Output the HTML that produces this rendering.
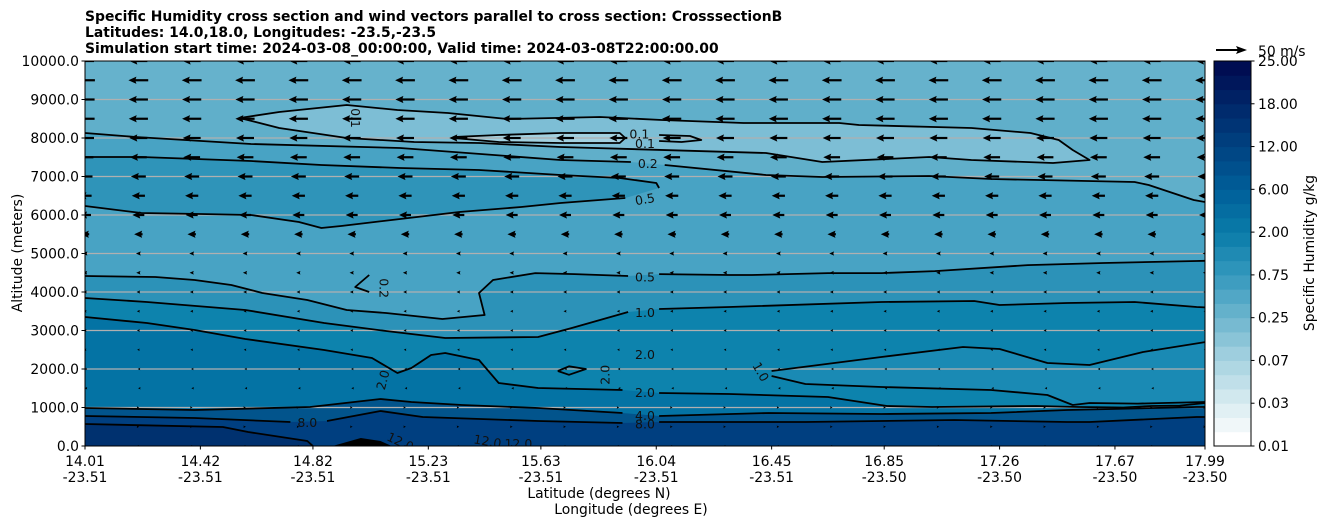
<!DOCTYPE html>
<html><head><meta charset="utf-8"><style>
html,body{margin:0;padding:0;background:#fff;}
svg{display:block;font-family:"DejaVu Sans","Liberation Sans",sans-serif;}
</style></head><body>
<svg id="chart" width="1326" height="526" viewBox="0 0 1326 526">
  <g font-weight="bold" font-size="13.9" fill="#000">
    <text x="85" y="21">Specific Humidity cross section and wind vectors parallel to cross section: CrosssectionB</text>
    <text x="85" y="37">Latitudes: 14.0,18.0, Longitudes: -23.5,-23.5</text>
    <text x="85" y="53">Simulation start time: 2024-03-08_00:00:00, Valid time: 2024-03-08T22:00:00.00</text>
  </g>
  <defs><clipPath id="plotclip"><rect x="85" y="61" width="1120" height="385"/></clipPath></defs>
  <g id="plot" clip-path="url(#plotclip)"></g>
  <g id="axes"></g>
  <g id="cbar"></g>
  <g>
    <line x1="1216" y1="50" x2="1238" y2="50" stroke="#000" stroke-width="2"/>
    <polygon points="1247,50 1236,46 1238,50 1236,54" fill="#000"/>
    <text x="1258" y="56" font-size="13.9">50 m/s</text>
  </g>
  <text x="599" y="498" font-size="13.9" text-anchor="middle">Latitude (degrees N)</text>
  <text x="631" y="514" font-size="13.9" text-anchor="middle">Longitude (degrees E)</text>
  <text transform="translate(22,253) rotate(-90)" font-size="13.9" text-anchor="middle">Altitude (meters)</text>
  <text transform="translate(1314,253) rotate(-90)" font-size="13.9" text-anchor="middle">Specific Humidity g/kg</text>
</svg>
<script>
// ---- data ----
const latTicks = [14.01,14.42,14.82,15.23,15.63,16.04,16.45,16.85,17.26,17.67,17.99];
const lonTicks = ["-23.51","-23.51","-23.51","-23.51","-23.51","-23.51","-23.51","-23.50","-23.50","-23.50","-23.50"];
const altTicks = [0,1000,2000,3000,4000,5000,6000,7000,8000,9000,10000];
const cbarTicks = ["0.01","0.03","0.07","0.25","0.75","2.00","6.00","12.00","18.00","25.00"];
const windAlts = [0,500,1000,1500,2000,2500,3000,3500,4000,4500,5000,5500,6000,6500,7000,7500,8000,8500,9000,9500,10000];
const windSpeeds = [0,3,3,-1,-2,-4,-5,-5,-6,-7,-8,-14,-20,-22,-25,-28,-30,-32,-32,-33,-30];
const windLatStart = 14.01, windLatEnd = 17.99, windCols = 22;

const c01a = [[14.56,8519],[14.70,8675],[14.94,8856],[15.12,8727],[15.30,8649],[15.51,8493],[15.84,8545],[16.06,8467],[16.35,8389],[16.69,8389],[16.76,8337],[17.16,8259],[17.37,8129],[17.47,7947],[17.52,7688],[17.58,7428],[17.45,7350],[17.16,7428],[17.01,7506],[16.63,7376],[16.43,7610],[15.70,7765],[15.41,7869],[15.18,7895],[14.94,7999],[14.70,8259],[14.56,8519]];
const c01b = [[15.32,8025],[15.48,8077],[15.70,8129],[15.91,8129],[15.93,8000],[15.91,7869],[15.70,7869],[15.48,7895],[15.32,7999],[15.32,8025]];
const c01c = [[16.05,8077],[16.16,8051],[16.20,7947],[16.13,7895],[16.05,7921]];
const c02a = [[14.01,8129],[14.19,8025],[14.60,7843],[15.13,7740],[15.70,7428],[15.95,7376]];
const c02b = [[16.07,7298],[16.43,7038],[16.63,6986],[17.01,7012],[17.23,6934],[17.74,6856],[17.79,6779],[17.95,6389],[17.99,6337]];
const c05u1 = [[14.01,7506],[14.21,7506],[14.60,7402],[14.85,7298],[15.13,7220],[15.41,7168],[15.70,7038],[15.91,6960],[16.04,6830],[16.05,6701]];
const c05u2 = [[14.01,6233],[14.21,6051],[14.42,6025],[14.60,5999],[14.77,5817],[14.85,5662],[14.92,5713],[15.13,5895],[15.34,6077],[15.56,6207],[15.70,6311],[15.93,6441]];
const c05a = [[14.01,4415],[14.26,4389],[14.40,4311],[14.53,4181],[14.64,3974],[14.80,3792],[14.94,3532],[15.08,3454],[15.28,3298],[15.43,3402],[15.41,3974],[15.46,4311],[15.61,4492],[15.75,4466],[15.94,4415]];
const c05b = [[16.05,4466],[16.30,4441],[16.38,4441],[16.65,4492],[16.84,4492],[17.03,4544],[17.36,4700],[17.63,4752],[17.96,4804],[17.99,4810]];
const c02h = [[15.02,4441],[14.97,4130],[15.02,4000]];
const c10a = [[14.01,3844],[14.23,3740],[14.58,3532],[14.86,3195],[15.08,2986],[15.29,2805],[15.62,2831],[15.74,3065],[15.94,3480]];
const c10b = [[16.05,3558],[16.30,3610],[16.84,3740],[17.17,3766],[17.26,3662],[17.50,3714],[17.74,3740],[17.96,3610],[17.99,3600]];
const c20a = [[14.01,3350],[14.23,3195],[14.40,3013],[14.58,2779],[14.86,2493],[15.03,2285],[15.12,1896],[15.17,2026],[15.24,2363],[15.29,2415],[15.41,2234],[15.48,1636],[15.62,1506],[15.92,1454]];
const c20b = [[16.05,1377],[16.30,1351],[16.65,1273],[16.86,1039],[17.02,1013],[17.39,1039],[17.54,1013],[17.70,1000],[17.80,1040],[17.90,1050],[17.99,1117]];
const c20loop = [[15.69,1948],[15.73,2070],[15.79,2000],[15.73,1850],[15.69,1948]];
const c10u = [[16.45,1948],[16.84,2311],[17.13,2571],[17.26,2519],[17.43,2156],[17.58,2104],[17.77,2441],[17.99,2700]];
const c10l = [[16.45,1818],[16.57,1610],[16.84,1532],[17.23,1454],[17.43,1325],[17.52,1065],[17.58,1117],[17.75,1100],[17.99,1143]];
const c40a = [[14.01,987],[14.40,935],[14.81,1013],[15.06,1221],[15.17,1143],[15.35,1065],[15.62,987],[15.92,857]];
const c40b = [[16.05,779],[16.44,857],[16.84,831],[17.23,857],[17.50,935],[17.96,1013],[17.99,1013]];
const c80a = [[14.01,779],[14.40,727],[14.74,623]];
const c80b = [[14.87,649],[15.06,909],[15.21,753],[15.62,649],[15.92,597]];
const c80c = [[16.05,623],[16.57,623],[17.10,675],[17.50,623],[17.58,623],[17.96,753],[17.99,753]];
const c12 = [[14.01,571],[14.50,493],[14.59,363],[14.80,129],[14.82,0]];
const cBlob = [[14.89,0],[14.99,207],[15.06,129],[15.10,0]];
const labels = [["0.1",14.97,8519,90],["0.1",15.98,8090,0],["0.1",16.0,7850,0],["0.2",16.01,7330,0],["0.5",16.0,6400,-10],
  ["0.5",16.0,4380,0],["0.2",15.07,4100,90],["1.0",16.0,3460,0],["2.0",16.0,2363,0],["2.0",15.86,1850,-90],["2.0",16.0,1380,0],
  ["2.0",15.07,1714,-75],["1.0",16.41,1922,60],["4.0",16.0,780,0],["8.0",14.80,600,0],["8.0",16.0,560,0],
  ["12.0",15.13,100,25],["12.0",15.44,110,10],["12.0",15.55,50,0]];

// ---- scales ----
const X0=85,X1=1205,Y0=446,Y1=61;
const xs = lat => X0 + (lat-14.01)/(17.99-14.01)*(X1-X0);
const ys = alt => Y0 - alt/10000*(Y0-Y1);
const NS="http://www.w3.org/2000/svg";
function mk(tag, attrs, parent){const e=document.createElementNS(NS,tag);for(const k in attrs)e.setAttribute(k,attrs[k]);parent.appendChild(e);return e;}
const pts = arr => arr.map(p=>xs(p[0]).toFixed(1)+","+ys(p[1]).toFixed(1)).join(" ");
const plot=document.getElementById('plot'), axes=document.getElementById('axes'), cbar=document.getElementById('cbar');

// ---- filled regions ----
function fillBelow(line, color, name){
  const s = pts(line) + " " + xs(17.99)+","+ys(line[line.length-1][1]).toFixed(1)+" "+X1+","+Y0+" "+X0+","+Y0+" "+X0+","+ys(line[0][1]).toFixed(1);
  const p=mk('polygon',{points:s,fill:color},plot);
  
  
}
function fillPoly(line, color, name){
  const p=mk('polygon',{points:pts(line),fill:color},plot);
  
  
}
const bg=mk('rect',{x:X0,y:Y1,width:X1-X0,height:Y0-Y1,fill:'#60afca'},plot);


const upperBand = mk('rect',{x:X0,y:Y1,width:X1-X0,height:ys(9000)-Y1,fill:'#66b2cc'},plot);


fillBelow(c02a.concat(c02b), '#48a3c4', 'humidity-fill-0.2');
fillPoly(c05u1.concat(c05u2.slice().reverse()).concat([[14.01,7506]]), '#2f94b9', 'humidity-fill-0.5-tongue');
fillPoly(c01a, '#7dbed5', 'humidity-fill-0.1');
fillPoly(c01b, '#a2d1e0', 'humidity-fill-0.1-core');
fillBelow(c05a.concat(c05b), '#2c92b8', 'humidity-fill-0.5');
fillBelow(c10a.concat(c10b), '#0d83ad', 'humidity-fill-1.0');
fillBelow(c20a.concat(c20b), '#0473a4', 'humidity-fill-2.0');
fillPoly(c10u.concat(c10l.slice().reverse()), '#1a8ab4', 'humidity-fill-1.0-lens');
fillBelow(c40a.concat(c40b), '#02548c', 'humidity-fill-4.0');
fillBelow(c80a.concat(c80b).concat(c80c), '#003f80', 'humidity-fill-8.0');
fillBelow(c12, '#00316f', 'humidity-fill-12.0');

// ---- grid lines ----
altTicks.forEach(a=>{
  if(a===0||a===10000) return;
  const l=mk('line',{x1:X0,x2:X1,y1:ys(a),y2:ys(a),stroke:'#b0b0b0','stroke-width':1.2},plot);
  
  
});

// ---- contour lines ----
const contourSet=[c01a,c01b,c01c,c02a,c02b,c05u1,c05u2,c05a,c05b,c02h,c10a,c10b,c20a,c20b,c20loop,c10u,c10l,c40a,c40b,c80a,c80b,c80c,c12];
contourSet.forEach((c,i)=>{
  const pl=mk('polyline',{points:pts(c),fill:'none',stroke:'#000','stroke-width':1.8,'stroke-linejoin':'round'},plot);
  
  
});
const blob=mk('polygon',{points:pts(cBlob),fill:'#000'},plot);


labels.forEach(L=>{
  const x=xs(L[1]), y=ys(L[2]);
  const t=mk('text',{x:x,y:y+4,'font-size':12.5,'text-anchor':'middle',fill:'#111',transform:`rotate(${L[3]} ${x} ${y})`},plot);
  t.textContent=L[0];
  
  
});

// ---- wind arrows ----
const pxPerMs = 30/50;
windAlts.forEach((alt,ri)=>{
  const u=windSpeeds[ri];
  for(let c=0;c<windCols;c++){
    const lat=windLatStart+(windLatEnd-windLatStart)*c/(windCols-1);
    const cx=xs(lat), cy=ys(alt);
    const L=Math.abs(u)*pxPerMs;
    const dir=u<0?-1:1;
    const g=mk('g',{},plot);
    
    
    if(L<0.5){ mk('circle',{cx:cx,cy:cy,r:0.9,fill:'#000'},g); continue; }
    const hl=Math.min(8,Math.max(L,2.5)), hw=Math.min(4,Math.max(hl*0.45,1.3));
    const tail=cx-dir*L/2, tip=cx+dir*L/2;
    if(L>hl) mk('line',{x1:tail,y1:cy,x2:tip-dir*hl*0.8,y2:cy,stroke:'#000','stroke-width':2.2},g);
    mk('polygon',{points:`${tip},${cy} ${tip-dir*hl},${cy-hw} ${tip-dir*hl*0.85},${cy} ${tip-dir*hl},${cy+hw}`,fill:'#000'},g);
  }
});

// ---- axes ----
const frame=mk('rect',{x:X0,y:Y1,width:X1-X0,height:Y0-Y1,fill:'none',stroke:'#000','stroke-width':1},axes);


altTicks.forEach(a=>{
  mk('line',{x1:X0-3.5,x2:X0,y1:ys(a),y2:ys(a),stroke:'#000'},axes);
  const t=mk('text',{x:X0-6,y:ys(a)+5,'font-size':13.9,'text-anchor':'end'},axes);
  t.textContent=a.toFixed(1);
  
  
});
latTicks.forEach((lat,i)=>{
  const x=xs(lat);
  mk('line',{x1:x,x2:x,y1:Y0,y2:Y0+3.5,stroke:'#000'},axes);
  const t=mk('text',{x:x,y:466,'font-size':13.9,'text-anchor':'middle'},axes);
  t.textContent=lat.toFixed(2);
  
  
  const t2=mk('text',{x:x,y:482,'font-size':13.9,'text-anchor':'middle'},axes);
  t2.textContent=lonTicks[i];
  
  
});

// ---- colorbar ----
const cbStops=['#ffffff','#d3e9ef','#a2d0df','#6ab4cd','#3398bd','#0a7ca9','#00609a','#004583','#002a6c','#000d52'];
function hex2rgb(h){return [1,3,5].map(i=>parseInt(h.substr(i,2),16));}
const CB0=1214,CB1=1251, nb=27, bh=(Y0-Y1)/nb;
for(let i=0;i<nb;i++){
  const f=i/(nb-1)*(cbStops.length-1), k=Math.min(Math.floor(f),cbStops.length-2), r=f-k;
  const a=hex2rgb(cbStops[k]), b=hex2rgb(cbStops[k+1]);
  const col='rgb('+a.map((v,j)=>Math.round(v+(b[j]-v)*r)).join(',')+')';
  const rc=mk('rect',{x:CB0,y:Y0-(i+1)*bh,width:CB1-CB0,height:bh+0.5,fill:col},cbar);
  
  
}
mk('rect',{x:CB0,y:Y1,width:CB1-CB0,height:Y0-Y1,fill:'none',stroke:'#000'},cbar);
cbarTicks.forEach((lab,i)=>{
  const y=Y0-i*(Y0-Y1)/(cbarTicks.length-1);
  mk('line',{x1:CB1,x2:CB1+3.5,y1:y,y2:y,stroke:'#000'},cbar);
  const t=mk('text',{x:CB1+7,y:y+5,'font-size':13.9},cbar);
  t.textContent=lab;
  
  
});
</script>
</body></html>
